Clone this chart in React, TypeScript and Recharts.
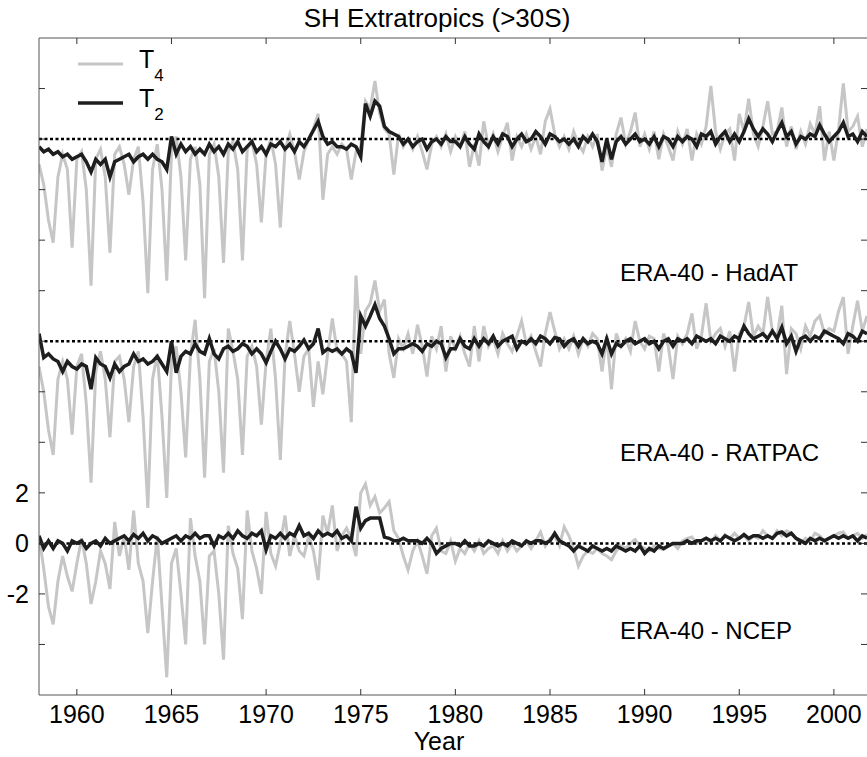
import React from 'react';
import { LineChart, Line, XAxis, YAxis, ReferenceLine } from 'recharts';

// quarterly samples, 1958.00 .. 2001.75 (4 values per year)
const START_YEAR = 1958;
const STEP = 0.25;

const hadatT4: number[] = [
  -1.0, -1.8, -3.2, -4.1, -1.5, -0.6, -1.2, -4.3, -0.8, -0.5, -2.0, -5.8, -0.8, -0.4, -1.5, -4.5,
  -0.6, -0.3, -1.0, -2.2, -0.8, -0.3, -2.5, -6.1, -1.2, -0.2, -2.0, -5.6, -0.5, 0.1, -1.5, -4.8,
  -0.8, -0.3, -1.8, -6.3, -0.6, -0.2, -1.5, -4.9, -0.5, -0.1, -1.2, -4.8, -0.4, -0.1, -1.0, -3.3,
  -0.6, 0.0, -1.0, -3.5, -0.4, 0.2, -0.5, -1.6, -0.5, 0.0, 0.4, 1.0, -2.4, -0.6, -0.3, -0.6,
  -0.2, -0.4, -1.6, -0.5, -0.3, 1.5, 1.2, 2.3, 1.0, 0.4, 0.2, -1.4, 0.2, -0.3, 0.0, -0.4,
  0.1, -0.5, -1.2, -0.2, 0.1, -0.3, 0.2, -0.5, 0.1, -0.3, 0.3, -1.1, -0.2, -1.05, 0.7, -0.3,
  0.2, -0.5, 0.1, 0.65, -0.85, 0.1, -0.3, 0.2, -0.4, 0.1, -0.6, 0.7, 1.2, 0.2, -0.3, 0.1,
  -0.4, 0.3, -0.2, -0.5, 0.1, -0.3, 0.2, -1.25, -0.3, -1.1, 0.2, 0.85, -0.2, 0.3, 1.05, -0.3,
  0.2, -0.4, 0.3, -0.8, 0.2, -0.3, -0.85, 0.3, -0.2, 0.4, -0.85, 0.2, -0.2, 0.5, 2.1, 0.3,
  -0.4, 0.2, 0.4, -0.85, 1.0, 0.3, 1.6, 0.2, -0.3, 0.5, 1.5, 0.2, 0.3, 1.25, -0.3, 0.5,
  -0.4, 0.3, -0.2, 0.6, 0.2, 1.3, -0.85, 0.3, -0.85, 0.4, 2.2, 0.3, 0.5, 0.9, -0.3, 0.4,
];

const hadatT2: number[] = [
  -0.3, -0.5, -0.4, -0.6, -0.5, -0.7, -0.6, -0.8, -0.7, -0.6, -0.9, -1.3, -0.8, -1.0, -0.8, -1.5,
  -0.9, -0.8, -0.7, -0.6, -0.9, -0.7, -0.6, -0.8, -0.6, -0.8, -0.9, -1.2, 0.1, -0.6, -0.2, -0.5,
  -0.3, -0.6, -0.4, -0.6, -0.2, -0.5, -0.3, -0.6, -0.2, -0.4, -0.1, -0.5, -0.3, -0.1, -0.5, -0.3,
  -0.6, -0.2, -0.3, -0.1, -0.4, -0.2, -0.5, -0.1, -0.3, 0.0, 0.35, 0.7, 0.1, -0.2, -0.1, -0.3,
  -0.3, -0.4, -0.2, -0.3, -0.7, 1.4, 0.9, 1.5, 1.3, 0.5, 0.3, 0.2, 0.1, -0.2, 0.0, -0.3,
  -0.1, 0.0, -0.4, -0.1, 0.0, -0.2, 0.1, -0.1, -0.1, -0.3, 0.1, -0.2, -0.4, 0.2, -0.1, -0.3,
  0.1, -0.2, 0.2, 0.1, -0.3, 0.0, 0.2, -0.1, 0.0, 0.3, 0.1, -0.2, 0.2, 0.1, -0.1, 0.0,
  -0.2, 0.0, -0.3, 0.1, -0.1, 0.2, -0.1, -0.9, 0.0, -0.8, -0.1, 0.1, -0.2, 0.0, 0.2, -0.1,
  0.0, -0.2, 0.1, -0.3, 0.1, 0.0, -0.3, 0.1, -0.1, 0.1, 0.0, -0.3, 0.2, 0.1, 0.3, -0.2,
  0.1, 0.3, -0.1, 0.2, -0.1, 0.3, 0.8, 0.4, 0.1, 0.4, 0.2, -0.1, 0.3, 0.65, 0.1, 0.3,
  -0.2, 0.1, 0.0, 0.2, 0.1, 0.55, 0.2, -0.1, 0.1, 0.3, 0.65, 0.1, 0.2, -0.1, 0.3, 0.1,
];

const ratpacT4: number[] = [
  -1.0, -2.0, -3.5, -4.5, -1.5, -0.8, -1.5, -3.7, -1.0, -0.5, -2.5, -5.6, -1.2, -0.4, -1.5, -3.8,
  -0.8, -0.6, -1.5, -3.2, -1.0, -0.4, -3.0, -6.6, -1.5, -0.5, -3.0, -6.2, -0.8, -0.2, -2.0, -4.6,
  -0.6, 0.85, -1.5, -5.4, -0.8, -0.3, -2.0, -5.2, 0.5, -0.4, -1.5, -4.5, -0.6, -0.2, -1.0, -3.3,
  -0.8, 0.5, -1.5, -4.7, -0.6, 0.8, -0.5, -2.0, -0.6, -0.3, -2.6, -0.8, -2.1, -0.5, 0.9, -0.4,
  -0.5, -0.8, -3.2, 2.6, -0.5, 1.2, 1.5, 2.4, 1.2, 1.65, -0.5, -1.45, 0.1, -0.3, 0.3, -0.5,
  0.65, -0.2, -1.4, 0.2, -0.3, 0.6, -1.2, 0.2, -0.3, 0.2, -0.5, -1.0, 0.6, -0.8, 0.6, -0.2,
  0.1, -0.5, 0.3, -0.1, -0.4, 0.2, 0.8, -0.1, 0.2, -0.4, -1.0, 0.3, 1.15, 0.4, -0.3, 0.1,
  -0.3, 0.2, -0.5, 0.1, -0.2, 0.3, 0.1, -1.2, 0.2, -1.9, 0.3, -0.2, 0.1, -0.4, 0.8, 0.0,
  -0.3, 0.2, 0.1, -1.2, 0.3, -0.2, -1.5, 0.2, -0.1, 0.3, 1.1, -0.3, 0.2, 1.5, 0.0, 0.3,
  0.5, -0.2, 0.4, -1.2, 0.3, 0.6, 1.55, 0.2, 0.6, 0.3, 1.75, 0.4, 0.2, 1.4, -1.3, 0.5,
  0.3, -0.3, 0.6, 0.2, 0.8, 1.0, 0.3, 0.5, 0.4, 1.2, 1.75, -0.5, 0.6, 1.6, 0.4, 1.0,
];

const ratpacT2: number[] = [
  0.3, -0.65, -0.5, -0.7, -0.8, -1.2, -0.8, -1.0, -1.1, -0.9, -1.0, -1.9, -0.65, -0.9, -1.0, -1.45,
  -0.9, -1.2, -1.0, -0.9, -0.5, -0.8, -0.7, -0.9, -0.8, -0.6, -0.9, -1.2, 0.0, -1.25, -0.6, -0.4,
  -0.5, -0.1, -0.4, -0.5, 0.1, -0.5, -0.7, -0.3, -0.2, -0.4, -0.3, -0.1, -0.2, -0.5, -0.3, -0.5,
  -0.85, -0.4, 0.0, -0.3, -0.7, -0.3, -0.4, -0.2, 0.05, -0.3, -0.1, 0.5, -0.45, -0.3, -0.4, -0.3,
  -0.5, -0.3, -0.45, -1.25, 1.0, 0.6, 1.0, 1.45, 0.9, 0.6, 0.1, -0.5, -0.3, -0.3, -0.2, -0.1,
  -0.2, -0.4, -0.1, -0.2, 0.0, -0.1, -0.65, -0.3, -0.3, 0.1, -0.2, -0.3, 0.1, -0.2, 0.1, -0.1,
  0.2, -0.2, 0.0, 0.1, 0.2, -0.3, 0.0, -0.1, 0.1, -0.1, 0.2, 0.1, -0.1, 0.15, 0.1, -0.2,
  0.0, 0.1, -0.2, 0.1, -0.1, 0.0, -0.1, -0.5, 0.1, -0.5, -0.1, -0.2, 0.0, 0.1, -0.1, 0.0,
  0.1, -0.1, 0.0, -0.3, 0.0, 0.1, -0.2, 0.1, 0.0, 0.1, -0.1, 0.2, 0.1, 0.0, 0.1, -0.1,
  0.2, 0.1, 0.0, 0.2, 0.1, 0.6, 0.3, 0.1, 0.2, 0.3, 0.1, 0.4, 0.1, 0.55, -0.1, 0.2,
  -0.4, 0.1, 0.2, 0.0, 0.2, 0.1, 0.4, 0.3, 0.2, 0.1, -0.1, 0.3, 0.2, 0.0, 0.4, 0.3,
];

const ncepT4: number[] = [
  0.3, -1.0, -2.5, -3.2, -1.5, -0.5, -1.3, -1.9, -0.8, 0.2, -0.8, -2.4, -1.5, -0.3, -0.8, -1.8,
  0.85, -0.5, 0.3, -1.05, 1.3, -0.8, -1.5, -3.55, -1.5, 0.3, -2.5, -5.3, -0.8, -0.2, -2.0, -4.0,
  1.0, -0.5, -1.5, -4.0, -0.5, -0.3, -2.0, -4.6, 0.7, -0.4, -1.0, -3.0, 1.3, -0.3, -1.0, -2.0,
  1.25, -0.4, -0.9, 0.0, 1.1, -0.5, 0.3, -0.3, -0.5, 0.3, -0.3, -1.45, 1.1, 0.4, 1.5, -0.3,
  0.3, 0.6, 0.2, -0.5, 2.0, 2.35, 1.5, 1.85, 1.2, 1.4, 1.65, 0.5, 0.2, -0.5, -1.05, -0.3,
  0.1, -0.5, -1.2, 0.3, 0.6, -0.3, -0.4, 0.1, -0.7, -0.2, -0.4, 0.0, -0.3, 0.1, -0.4, -0.2,
  -0.1, -0.4, 0.1, -0.3, 0.0, -0.3, -0.1, 0.1, -0.2, 0.1, 0.45, -0.1, 0.2, 0.3, -0.1, 0.65,
  0.3, -0.2, -0.9, -0.5, -0.3, -0.4, -0.2, -0.4, -0.5, -0.65, -0.3, -0.1, -0.2, 0.0, 0.15, -0.1,
  -0.2, -0.3, -0.1, -0.2, -0.25, -0.1, 0.0, -0.2, 0.1, 0.2, 0.25, 0.0, 0.1, 0.2, 0.0, 0.3,
  0.1, 0.35, 0.2, 0.4, 0.2, 0.3, 0.1, 0.3, 0.2, 0.5, 0.3, 0.2, 0.5, 0.3, 0.5, 0.4,
  0.2, 0.0, 0.2, 0.1, 0.4, 0.3, 0.1, 0.2, 0.3, 0.4, 0.45, 0.2, 0.3, 0.4, 0.2, 0.35,
];

const ncepT2: number[] = [
  0.3, -0.2, 0.1, -0.2, 0.1, 0.0, -0.3, 0.1, 0.0, 0.1, -0.2, 0.0, 0.1, -0.1, 0.2, 0.0,
  0.1, 0.2, 0.3, 0.1, 0.35, 0.2, 0.4, 0.1, 0.3, 0.2, 0.0, 0.1, 0.2, 0.3, 0.1, 0.3,
  0.2, 0.4, 0.2, 0.3, 0.3, -0.1, 0.3, 0.2, 0.4, 0.2, 0.5, 0.3, 0.2, 0.4, 0.3, 0.5,
  -0.25, 0.3, 0.2, 0.4, 0.2, 0.4, 0.3, 0.7, 0.3, 0.4, 0.2, 0.5, 0.3, 0.4, 0.3, 0.5,
  0.2, 0.3, 0.1, 1.45, 0.6, 0.9, 1.0, 1.0, 1.0, 0.25, 0.2, 0.1, 0.1, 0.2, 0.1, 0.1,
  0.1, 0.0, 0.2, 0.0, -0.4, -0.2, -0.1, 0.0, 0.0, -0.1, 0.1, -0.1, -0.1, 0.0, -0.1, 0.1,
  0.0, -0.1, 0.0, -0.1, 0.1, 0.0, -0.1, 0.1, 0.0, 0.1, 0.1, 0.0, 0.1, 0.4, 0.1, 0.0,
  -0.1, -0.3, -0.1, -0.2, -0.3, -0.1, -0.2, -0.3, -0.2, -0.3, -0.1, -0.2, -0.3, -0.2, -0.3, -0.1,
  -0.4, -0.2, -0.3, -0.1, -0.2, -0.1, 0.0, 0.0, 0.0, 0.1, 0.0, 0.1, 0.1, 0.2, 0.1, 0.2,
  0.1, 0.3, 0.2, 0.1, 0.2, 0.35, 0.2, 0.3, 0.3, 0.2, 0.3, 0.2, 0.4, 0.45, 0.3, 0.4,
  0.2, 0.1, 0.0, 0.2, 0.1, 0.2, 0.1, 0.2, 0.3, 0.2, 0.3, 0.2, 0.3, 0.1, 0.3, 0.2,
];

// vertical offsets that stack the three panels
const OFFSET_HADAT = 16;
const OFFSET_RATPAC = 8;
const OFFSET_NCEP = 0;

const xTicks = [1960, 1965, 1970, 1975, 1980, 1985, 1990, 1995, 2000];
const yLabelTicks = [-2, 0, 2];
const yMarkTicks = [-4, -2, 0, 2, 4, 6, 8, 10, 12, 14, 16, 18];
const panelLabels = ['ERA-40 - HadAT', 'ERA-40 - RATPAC', 'ERA-40 - NCEP'];

const data = hadatT4.map((v, i) => ({
  year: START_YEAR + i * STEP,
  hT4: v + OFFSET_HADAT,
  hT2: hadatT2[i] + OFFSET_HADAT,
  rT4: ratpacT4[i] + OFFSET_RATPAC,
  rT2: ratpacT2[i] + OFFSET_RATPAC,
  nT4: ncepT4[i] + OFFSET_NCEP,
  nT2: ncepT2[i] + OFFSET_NCEP,
}));

const W = 867;
const H = 757;
const FONT = '"Liberation Sans", Arial, Helvetica, sans-serif';
const GRAY = '#c6c6c6';
const BLACK = '#1e1e1e';
const X_DOMAIN: [number, number] = [1958, 2001.75];
const Y_DOMAIN: [number, number] = [-6, 20];

const NoLabel = () => <g />;

export default function App() {
  const lineCommon = {
    xAxisId: 'b',
    yAxisId: 'l',
    type: 'linear' as const,
    dot: false,
    isAnimationActive: false,
  };
  const markAxis = {
    type: 'number' as const,
    allowDataOverflow: true,
    mirror: true,
    tick: NoLabel,
    tickSize: 6,
    tickLine: { stroke: '#333', strokeWidth: 1 },
  };
  return (
    <div style={{ position: 'absolute', left: 0, top: 0, width: W, height: H, background: '#fff', fontFamily: FONT }}>
      <LineChart width={W} height={H} data={data} margin={{ top: 38, right: 0, bottom: 0, left: 0 }}>
        <XAxis
          xAxisId="b"
          dataKey="year"
          type="number"
          domain={X_DOMAIN}
          allowDataOverflow
          ticks={xTicks}
          height={62}
          tickLine={false}
          tickSize={0}
          tickMargin={10}
          axisLine={{ stroke: '#555', strokeWidth: 1 }}
          tick={{ fill: '#000', fontSize: 25, fontFamily: FONT }}
        />
        <XAxis {...markAxis} xAxisId="bt" dataKey="year" domain={X_DOMAIN} ticks={xTicks} axisLine={false} />
        <XAxis
          {...markAxis}
          xAxisId="t"
          dataKey="year"
          orientation="top"
          domain={X_DOMAIN}
          ticks={xTicks}
          axisLine={{ stroke: '#555', strokeWidth: 1 }}
        />
        <YAxis
          yAxisId="l"
          type="number"
          domain={Y_DOMAIN}
          allowDataOverflow
          ticks={yLabelTicks}
          width={39}
          tickLine={false}
          tickSize={0}
          tickMargin={10}
          axisLine={{ stroke: '#555', strokeWidth: 1 }}
          tick={{ fill: '#000', fontSize: 25, fontFamily: FONT }}
        />
        <YAxis {...markAxis} yAxisId="lt" domain={Y_DOMAIN} ticks={yMarkTicks} axisLine={false} />
        <YAxis {...markAxis} yAxisId="r" orientation="right" domain={Y_DOMAIN} ticks={yMarkTicks} axisLine={false} />
        <Line {...lineCommon} dataKey="hT4" stroke={GRAY} strokeWidth={3} />
        <Line {...lineCommon} dataKey="rT4" stroke={GRAY} strokeWidth={3} />
        <Line {...lineCommon} dataKey="nT4" stroke={GRAY} strokeWidth={3} />
        <ReferenceLine xAxisId="b" yAxisId="l" y={OFFSET_HADAT} stroke="#000" strokeWidth={2.5} strokeDasharray="3 2.5" />
        <ReferenceLine xAxisId="b" yAxisId="l" y={OFFSET_RATPAC} stroke="#000" strokeWidth={2.5} strokeDasharray="3 2.5" />
        <ReferenceLine xAxisId="b" yAxisId="l" y={OFFSET_NCEP} stroke="#000" strokeWidth={2.5} strokeDasharray="3 2.5" />
        <Line {...lineCommon} dataKey="hT2" stroke={BLACK} strokeWidth={3.5} />
        <Line {...lineCommon} dataKey="rT2" stroke={BLACK} strokeWidth={3.5} />
        <Line {...lineCommon} dataKey="nT2" stroke={BLACK} strokeWidth={3.5} />
      </LineChart>
      <svg
        width={W}
        height={H}
        style={{ position: 'absolute', left: 0, top: 0, pointerEvents: 'none' }}
        fontFamily={FONT}
      >
        <text x={437} y={27} textAnchor="middle" fontSize={26} fill="#000">SH Extratropics (&gt;30S)</text>
        <line x1={78} y1={64} x2={123} y2={64} stroke={GRAY} strokeWidth={3} />
        <text x={139} y={68} fontSize={25} fill="#000">T<tspan fontSize={17} dy={13}>4</tspan></text>
        <line x1={78} y1={103} x2={123} y2={103} stroke={BLACK} strokeWidth={3.5} />
        <text x={139} y={107} fontSize={25} fill="#000">T<tspan fontSize={17} dy={13}>2</tspan></text>
        <text x={620} y={281} fontSize={24} fill="#000">{panelLabels[0]}</text>
        <text x={620} y={461} fontSize={24} fill="#000">{panelLabels[1]}</text>
        <text x={620} y={639} fontSize={24} fill="#000">{panelLabels[2]}</text>
        <text x={439} y={750} textAnchor="middle" fontSize={25} fill="#000">Year</text>
      </svg>
    </div>
  );
}
